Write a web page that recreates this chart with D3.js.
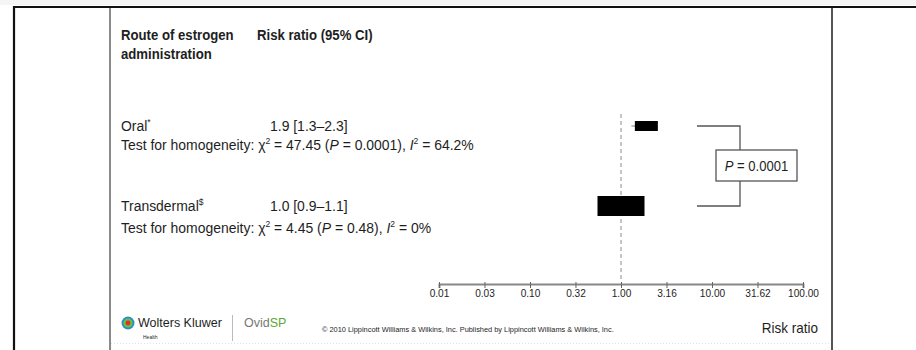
<!DOCTYPE html>
<html>
<head>
<meta charset="utf-8">
<script src="https://cdn.jsdelivr.net/npm/d3@7/dist/d3.min.js"></script>
<style>
  html, body { margin: 0; padding: 0; background: #fff; }
  svg { display: block; }
  text { font-family: "Liberation Sans", Arial, sans-serif; fill: #1e1e1e; }
</style>
</head>
<body>
<svg id="chart" width="916" height="350"></svg>
<script>
// Pooled risk ratios by route of estrogen administration
const routes = ["Oral", "Transdermal"];
const routeMarks = ["*", "$"];
const riskRatio = [1.9, 1.0];
const ciLow = [1.3, 0.9];
const ciHigh = [2.3, 1.1];
const ciText = ["1.9 [1.3\u20132.3]", "1.0 [0.9\u20131.1]"];
const chiSquare = ["47.45", "4.45"];
const pHomogeneity = ["0.0001", "0.48"];
const iSquare = ["64.2%", "0%"];
const pBetweenRoutes = "0.0001";
const tickValues = [0.01, 0.0316, 0.1, 0.316, 1, 3.162, 10, 31.62, 100];

const svg = d3.select("#chart");

// text placed in a squeezed group so it reads as a condensed font
function label(parent, x, y, size, squeeze, anchor) {
  return parent.append("g")
    .attr("transform", `translate(${x},${y}) scale(${squeeze},1)`)
    .append("text").attr("font-size", size).attr("text-anchor", anchor || "start");
}

// frame of the slide
svg.append("rect").attr("x", 0).attr("y", 0).attr("width", 916).attr("height", 5).attr("fill", "#f5f5f5");
svg.append("line").attr("x1", 13).attr("x2", 916).attr("y1", 7).attr("y2", 7)
  .attr("stroke", "#111").attr("stroke-width", 2.2);
svg.append("line").attr("x1", 14).attr("x2", 14).attr("y1", 6).attr("y2", 350)
  .attr("stroke", "#111").attr("stroke-width", 2.2);
svg.append("line").attr("x1", 110).attr("x2", 110).attr("y1", 8).attr("y2", 350)
  .attr("stroke", "#8a8a8a").attr("stroke-width", 2);
svg.append("line").attr("x1", 832).attr("x2", 832).attr("y1", 8).attr("y2", 350)
  .attr("stroke", "#555").attr("stroke-width", 2);
svg.append("line").attr("x1", 111).attr("x2", 831).attr("y1", 343.5).attr("y2", 343.5)
  .attr("stroke", "#e2e2e2").attr("stroke-width", 1).attr("stroke-dasharray", "1,2");

// scales
const x = d3.scaleLog().domain([0.01, 100]).range([439, 803]);
const y = d3.scalePoint().domain(routes).range([126, 206]);

// column headers
label(svg, 121, 40, 15.5, 0.85).attr("font-weight", "bold").text("Route of estrogen");
label(svg, 121, 59, 15.5, 0.85).attr("font-weight", "bold").text("administration");
label(svg, 257, 40, 15.5, 0.85).attr("font-weight", "bold").text("Risk ratio (95% CI)");

// row labels and homogeneity tests
const BODY = 15.5, SQ = 0.9;
routes.forEach((r, i) => {
  const base = y(r) + 5;
  const lab = label(svg, 121, base, BODY, SQ);
  lab.append("tspan").text(r);
  lab.append("tspan").attr("dy", -6).attr("font-size", 9.5).text(routeMarks[i]);
  label(svg, 270, base, BODY, SQ).text(ciText[i]);

  const t = label(svg, 121, base + (i === 0 ? 19 : 22), BODY, SQ);
  t.append("tspan").text("Test for homogeneity: \u03c7");
  t.append("tspan").attr("dy", -6).attr("font-size", 9.5).text("2");
  t.append("tspan").attr("dy", 6).text(" = " + chiSquare[i] + " (");
  t.append("tspan").attr("font-style", "italic").text("P");
  t.append("tspan").text(" = " + pHomogeneity[i] + "), ");
  t.append("tspan").attr("font-style", "italic").text("I");
  t.append("tspan").attr("dy", -6).attr("font-size", 9.5).text("2");
  t.append("tspan").attr("dy", 6).text(" = " + iSquare[i]);
});

// line of no effect
svg.append("line").attr("x1", x(1)).attr("x2", x(1)).attr("y1", 114).attr("y2", 282)
  .attr("stroke", "#8c8c8c").attr("stroke-width", 1).attr("stroke-dasharray", "4,3");

// confidence intervals and pooled estimates
const boxSize = [{ w: 23, h: 10 }, { w: 47, h: 20 }];
routes.forEach((r, i) => {
  svg.append("line").attr("x1", x(ciLow[i])).attr("x2", x(ciHigh[i]))
    .attr("y1", y(r)).attr("y2", y(r)).attr("stroke", "#aaa").attr("stroke-width", 1.5);
  svg.append("rect")
    .attr("x", x(riskRatio[i]) - boxSize[i].w / 2).attr("y", y(r) - boxSize[i].h / 2)
    .attr("width", boxSize[i].w).attr("height", boxSize[i].h).attr("fill", "#000");
});

// comparison bracket between routes
const bx0 = 697, bx1 = 740;
const pBox = { x: 716, y: 150, w: 81, h: 31 };
svg.append("path")
  .attr("d", `M${bx0},${y(routes[0])}H${bx1}V${pBox.y}M${bx1},${pBox.y + pBox.h}V${y(routes[1])}H${bx0}`)
  .attr("fill", "none").attr("stroke", "#555").attr("stroke-width", 1.3);
svg.append("rect").attr("x", pBox.x).attr("y", pBox.y).attr("width", pBox.w).attr("height", pBox.h)
  .attr("fill", "#fff").attr("stroke", "#555").attr("stroke-width", 1.3);
const pt = label(svg, pBox.x + pBox.w / 2, pBox.y + pBox.h / 2 + 5.5, 14.5, 0.9, "middle");
pt.append("tspan").attr("font-style", "italic").text("P");
pt.append("tspan").text(" = " + pBetweenRoutes);

// log axis
const axis = d3.axisBottom(x).tickValues(tickValues).tickFormat(d3.format(".2f")).tickSizeOuter(0).tickSize(4);
const ax = svg.append("g").attr("transform", "translate(0,284)").call(axis);
ax.select(".domain").attr("stroke", "#888").attr("stroke-width", 2);
ax.selectAll(".tick line").attr("stroke", "#666").attr("y1", -2);
ax.selectAll(".tick text")
  .attr("font-size", 11.5).attr("font-family", "Liberation Sans, Arial, sans-serif")
  .attr("fill", "#333").attr("dy", "0.5em")
  .attr("transform", "scale(0.88,1)");
label(svg, 818, 333, 15, 0.9, "end").text("Risk ratio");

// publisher footer
const logo = svg.append("g").attr("transform", "translate(128,323)");
logo.append("circle").attr("r", 6.5).attr("fill", "#2b8fcf");
logo.append("circle").attr("r", 4.6).attr("fill", "#6cbf3a");
logo.append("circle").attr("r", 2.4).attr("fill", "#e0302b");
svg.append("text").attr("x", 138).attr("y", 327).attr("font-size", 12.5)
  .attr("fill", "#666").text("Wolters Kluwer");
svg.append("text").attr("x", 143).attr("y", 339).attr("font-size", 5)
  .attr("fill", "#2a7fc0").text("Health");
svg.append("line").attr("x1", 232.5).attr("x2", 232.5).attr("y1", 315).attr("y2", 341)
  .attr("stroke", "#bbb").attr("stroke-width", 1);
const ovid = svg.append("text").attr("x", 244).attr("y", 327).attr("font-size", 12.5);
ovid.append("tspan").attr("fill", "#777").text("Ovid");
ovid.append("tspan").attr("fill", "#5aa832").text("SP");
svg.append("text").attr("x", 322).attr("y", 332).attr("font-size", 7.4)
  .attr("fill", "#999")
  .text("\u00a9 2010 Lippincott Williams & Wilkins, Inc.  Published by Lippincott Williams & Wilkins, Inc.");
</script>
</body>
</html>
